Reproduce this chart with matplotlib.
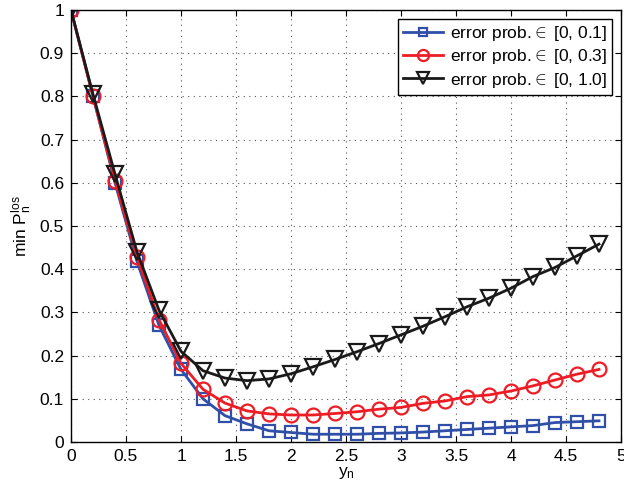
import matplotlib
matplotlib.use("Agg")
import matplotlib.pyplot as plt
import numpy as np

plt.rcParams['font.family'] = ['Liberation Sans', 'DejaVu Sans']
plt.rcParams['mathtext.fontset'] = 'custom'
plt.rcParams['mathtext.rm'] = 'Liberation Sans'
plt.rcParams['mathtext.it'] = 'Liberation Sans'

y_n = [0.0, 0.2, 0.4, 0.6, 0.8, 1.0, 1.2, 1.4, 1.6, 1.8, 2.0, 2.2, 2.4, 2.6,
       2.8, 3.0, 3.2, 3.4, 3.6, 3.8, 4.0, 4.2, 4.4, 4.6, 4.8]

p_01 = [1.0, 0.80, 0.60, 0.418, 0.270, 0.168, 0.100, 0.061, 0.042, 0.026,
        0.022, 0.018, 0.018, 0.018, 0.020, 0.021, 0.023, 0.026, 0.029, 0.032,
        0.035, 0.038, 0.045, 0.047, 0.049]
p_03 = [1.0, 0.80, 0.605, 0.428, 0.283, 0.182, 0.122, 0.090, 0.072, 0.065,
        0.0625, 0.0625, 0.066, 0.070, 0.076, 0.080, 0.0895, 0.095, 0.105, 0.109,
        0.118, 0.130, 0.1435, 0.157, 0.168]
p_10 = [1.0, 0.805, 0.62, 0.44, 0.305, 0.21, 0.165, 0.148, 0.142, 0.146,
        0.158, 0.174, 0.191, 0.209, 0.228, 0.248, 0.268, 0.290, 0.313, 0.333,
        0.356, 0.383, 0.404, 0.431, 0.458]

labels = [r'error prob.$\in$ [0, 0.1]', r'error prob.$\in$ [0, 0.3]', r'error prob.$\in$ [0, 1.0]']

fig = plt.figure(figsize=(6.24, 4.95), dpi=100)
ax = fig.add_axes([71/624, 53/495, 550/624, 432/495])

ax.plot(y_n, p_01, color='#2f4fa8', lw=2, marker='s', ms=8, mfc='none', mew=1.6, label=labels[0])
ax.plot(y_n, p_03, color='#ee1c24', lw=2, marker='o', ms=10, mfc='none', mew=1.6, label=labels[1])
ax.plot(y_n, p_10, color='#1a1a1a', lw=2, marker='v', ms=11, mfc='none', mew=1.6, label=labels[2])

ax.set_xlim(0, 5)
ax.set_ylim(0, 1)
ax.set_xticks(np.arange(0, 5.01, 0.5))
ax.set_xticklabels(['0', '0.5', '1', '1.5', '2', '2.5', '3', '3.5', '4', '4.5', '5'])
ax.set_yticks(np.arange(0, 1.01, 0.1))
ax.set_yticklabels(['0', '0.1', '0.2', '0.3', '0.4', '0.5', '0.6', '0.7', '0.8', '0.9', '1'])
ax.tick_params(direction='in', top=True, right=True, labelsize=12.5, length=4, pad=5)
ax.grid(True, linestyle=(0, (1, 4)), color='#555555', lw=0.8)
for s in ax.spines.values():
    s.set_linewidth(1.0)

ax.set_xlabel(r'y$_\mathregular{n}$', fontsize=12.5, labelpad=1)
ax.set_ylabel(r'min P$_\mathregular{n}^\mathregular{los}$', fontsize=12.5, labelpad=4)

leg = ax.legend(loc='upper right', fontsize=12.5, fancybox=False, edgecolor='black',
                framealpha=1, handlelength=2.3, borderaxespad=0.5, labelspacing=0.25,
                borderpad=0.3, handletextpad=0.4, markerscale=0.8)
leg.get_frame().set_linewidth(1.0)

fig.savefig('out.png', dpi=100)
